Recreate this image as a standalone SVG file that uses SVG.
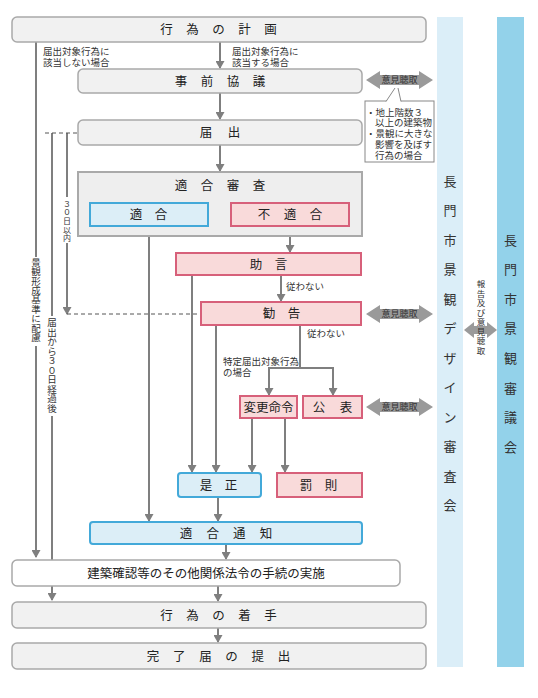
<svg xmlns="http://www.w3.org/2000/svg" xmlns:xlink="http://www.w3.org/1999/xlink" width="538" height="698" viewBox="0 0 538 698">
<style>
.box{fill:#f1f1f1;stroke:#a9a9a9;stroke-width:1.5}
.wbox{fill:#ffffff;stroke:#a9a9a9;stroke-width:1.5}
.cont{fill:#eeeeee;stroke:#a9a9a9;stroke-width:2}
.pink{fill:#f9dada;stroke:#d7607a;stroke-width:2}
.blue{fill:#dceef7;stroke:#43a9d9;stroke-width:2}
text{font-family:"Noto Sans CJK JP","Noto Sans",sans-serif;fill:#222}
.t{font-size:12.5px;text-anchor:middle}
.s{font-size:9.5px;fill:#333}
.v{font-size:9.5px;fill:#333;text-anchor:middle}
.b{font-size:13px;text-anchor:middle;fill:#333}
.ln{stroke:#7f7f7f;stroke-width:2;fill:none}
.ar{stroke:#7f7f7f;stroke-width:2;fill:none;marker-end:url(#ah)}
.dash{stroke:#555;stroke-width:1;stroke-dasharray:4 3;fill:none}
.dbl{fill:#9a9a9a}
</style>
<defs>
<marker id="ah" markerUnits="userSpaceOnUse" viewBox="0 0 8 9" refX="7" refY="4.5" markerWidth="8" markerHeight="9" orient="auto">
<path d="M0,0 L8,4.5 L0,9 Z" fill="#7f7f7f"/>
</marker>
<g id="iken">
<polygon class="dbl" points="366,0 380,-9 380,-5 419,-5 419,-9 433,0 419,9 419,5 380,5 380,9"/>
<text x="399.5" y="3.3" style="font-size:9px;fill:#333;text-anchor:middle">意見聴取</text>
</g>
</defs>

<!-- side bands -->
<g id="band-design">
<rect x="437" y="17" width="26" height="650" fill="#dbeef8"/>
<text class="b" x="450 450 450 450 450 450 450 450 450 450 450 450" y="185.6 215.1 244.6 274.1 303.6 333.1 362.6 392.1 421.6 451.1 480.6 510.1">長門市景観デザイン審査会</text>
</g>
<g id="band-council">
<rect x="497" y="17" width="27" height="650" fill="#93d2ea"/>
<text class="b" x="510.5 510.5 510.5 510.5 510.5 510.5 510.5 510.5" y="244.6 274.2 303.8 333.4 363 392.6 422.2 451.8">長門市景観審議会</text>
</g>
<g id="report">
<polygon class="dbl" points="464,330 474,322 474,326 487,326 487,322 497,330 487,338 487,334 474,334 474,338"/>
<text class="v" style="font-size:8.5px" x="481 481 481 481 481 481 481 481" y="287 296.5 306 315.5 325 334.5 344 353.5">報告及び意見聴取</text>
</g>

<!-- connectors -->
<g id="connectors">
<path class="ar" d="M220,42 V68"/>
<path class="ar" d="M220,93 V119"/>
<path class="ar" d="M220,145 V171"/>
<path class="ar" d="M290,226 V252"/>
<path class="ar" d="M281,275 V301"/>
<path class="ar" d="M192,275 V472"/>
<path class="ar" d="M216,325 V472"/>
<path class="ln" d="M300,325 V368 M269,368 H333"/>
<path class="ar" d="M269,367 V395"/>
<path class="ar" d="M333,367 V395"/>
<path class="ar" d="M252,418 V472"/>
<path class="ar" d="M285,418 V472"/>
<path class="ar" d="M149,226 V521"/>
<path class="ar" d="M218,497 V521"/>
<path class="ar" d="M226,544 V559"/>
<path class="ar" d="M218,586 V601"/>
<path class="ar" d="M218,628 V642"/>
<path class="ln" d="M36,42 V257"/>
<path class="ar" d="M36,346 V557"/>
<path class="ln" d="M52,133 V316"/>
<path class="ar" d="M52,416 V600"/>
<path class="ln" d="M67,133 V197"/>
<path class="ar" d="M67,243 V314"/>
<path class="dash" d="M45,133 H78"/>
<path class="dash" d="M67,314 H200"/>
<text class="s" x="43" y="55">届出対象行為に</text>
<text class="s" x="43" y="66">該当しない場合</text>
<text class="s" x="232" y="55">届出対象行為に</text>
<text class="s" x="232" y="66">該当する場合</text>
<text class="s" x="286" y="289.5">従わない</text>
<text class="s" x="307" y="337">従わない</text>
<text class="s" x="223" y="364.5">特定届出対象行為</text>
<text class="s" x="223" y="375.5">の場合</text>
<text class="v" x="36 36 36 36 36 36 36 36 36" y="266 275.3 284.7 294 303.4 312.8 322.1 331.5 340.9">景観形成基準に配慮</text>
<text class="v" x="52 52 52 52 52 52 52 52 52 52" y="326 335.5 345 354.5 364 373.5 383 392.5 402 411.5">届出から３０日経過後</text>
<text class="v" style="font-size:8px" x="67 67 67 67 67" y="206.5 214.5 223.5 232.5 240.5">３０日以内</text>
</g>

<g id="keikaku">
<rect class="box" x="12" y="17" width="414" height="25" rx="5"/>
<text class="t" x="166.5 192.5 218.5 244.5 270.5" y="34">行為の計画</text>
</g>
<g id="jizen">
<rect class="box" x="78" y="69" width="284" height="24" rx="5"/>
<text class="t" x="181 207 233 259" y="85.5">事前協議</text>
</g>
<g id="iken1"><use xlink:href="#iken" href="#iken" y="80"/></g>
<g id="callout">
<rect x="365" y="101" width="69" height="61" fill="#fff" stroke="#888" stroke-width="1"/>
<polygon points="386,102 395,88 398,88 401,102" fill="#fff"/>
<path d="M386,101.5 L395,88 M398,88 L401,101.5" stroke="#888" stroke-width="1" fill="none"/>
<text class="s" x="366" y="115.5">・地上階数３</text>
<text class="s" x="375" y="126">以上の建築物</text>
<text class="s" x="366" y="137">・景観に大きな</text>
<text class="s" x="375" y="148">影響を及ぼす</text>
<text class="s" x="375" y="158.5">行為の場合</text>
</g>
<g id="todokede">
<rect class="box" x="78" y="120" width="284" height="25" rx="5"/>
<text class="t" x="206 234" y="137">届出</text>
</g>
<g id="shinsa">
<rect class="cont" x="78" y="172" width="284" height="64"/>
<text class="t" x="181 207 233 259" y="189.5">適合審査</text>
</g>
<g id="tekigo">
<rect class="blue" x="90" y="203" width="118" height="23"/>
<text class="t" x="136 161" y="219">適合</text>
</g>
<g id="futekigo">
<rect class="pink" x="231" y="203" width="118" height="23"/>
<text class="t" x="264 290 316" y="219">不適合</text>
</g>
<g id="jogen">
<rect class="pink" x="176" y="253" width="185" height="22"/>
<text class="t" x="256 281" y="268.5">助言</text>
</g>
<g id="kankoku">
<rect class="pink" x="201" y="302" width="160" height="23"/>
<text class="t" x="269 294" y="318">勧告</text>
</g>
<g id="iken2"><use xlink:href="#iken" href="#iken" y="314"/></g>
<g id="henko">
<rect class="pink" x="240" y="396" width="57" height="22"/>
<text class="t" x="268.5" y="411.5">変更命令</text>
</g>
<g id="kohyo">
<rect class="pink" x="303" y="396" width="59" height="22"/>
<text class="t" x="319 346" y="411.5">公表</text>
</g>
<g id="iken3"><use xlink:href="#iken" href="#iken" y="407"/></g>
<g id="zesei">
<rect class="blue" x="178" y="473" width="83" height="24" rx="3"/>
<text class="t" x="206 231" y="489.5">是正</text>
</g>
<g id="bassoku">
<rect class="pink" x="277" y="473" width="85" height="24"/>
<text class="t" x="306 331" y="489.5">罰則</text>
</g>
<g id="tsuchi">
<rect class="blue" x="90" y="522" width="272" height="22" rx="3"/>
<text class="t" x="186 212.7 239.3 266" y="537.5">適合通知</text>
</g>
<g id="kakunin">
<rect class="wbox" x="12" y="560" width="388" height="26" rx="5"/>
<text class="t" x="206" y="577.5">建築確認等のその他関係法令の手続の実施</text>
</g>
<g id="chakushu">
<rect class="box" x="12" y="602" width="414" height="26" rx="5"/>
<text class="t" x="166.5 192.5 218.5 244.5 270.5" y="619.5">行為の着手</text>
</g>
<g id="kanryo">
<rect class="box" x="12" y="643" width="414" height="26" rx="5"/>
<text class="t" x="153 179.2 205.4 231.6 257.8 284" y="660.5">完了届の提出</text>
</g>
</svg>
